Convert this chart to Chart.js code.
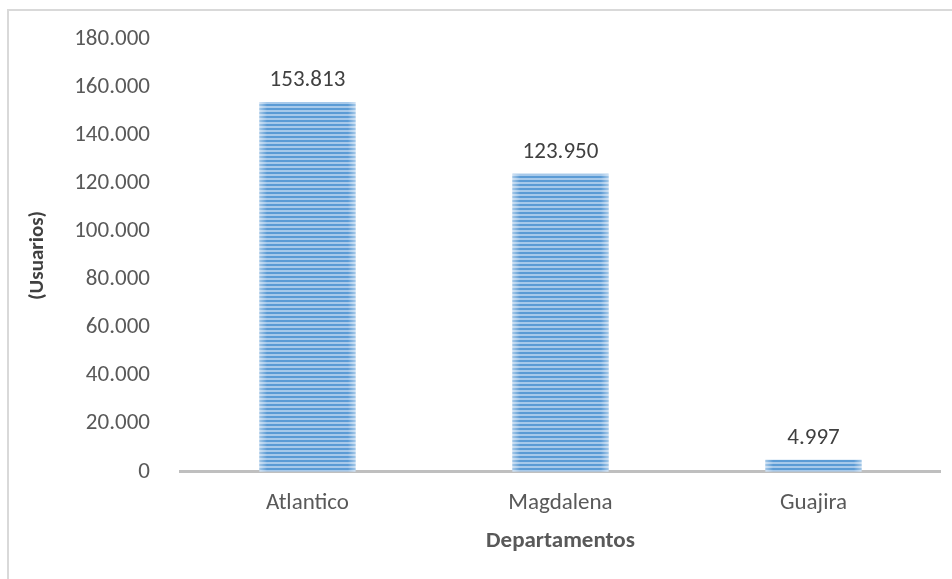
<!DOCTYPE html>
<html>
<head>
<meta charset="utf-8">
<script src="https://cdn.jsdelivr.net/npm/chart.js@4.4.0/dist/chart.umd.min.js"></script>
<style>
  html, body { margin: 0; padding: 0; background: #fff; }
  body { width: 952px; height: 579px; overflow: hidden; position: relative; }
  .frame { position: absolute; left: 7px; top: 9px; width: 1000px; height: 1000px; border-left: 2px solid #d9d9d9; border-top: 2px solid #d9d9d9; }
  #wrap { position: absolute; left: 0; top: 0; width: 952px; height: 579px; }
</style>
</head>
<body>
<div class="frame"></div>
<div id="wrap"><canvas id="usuarios"></canvas></div>
<script>
// Usuarios por departamento
const departamentos = ['Atlantico', 'Magdalena', 'Guajira']
const usuarios = [153813, 123950, 4997]
const yMax = 180000
const yStep = 20000

const fontFamily = "Carlito, Calibri, Lato, 'Open Sans', sans-serif"

// miles con punto: 153813 -> 153.813
function miles (v) {
  return String(Math.round(v)).replace(/\B(?=(\d{3})+(?!\d))/g, '.')
}

// relleno rayado horizontal de las barras
function rayas () {
  const c = document.createElement('canvas')
  c.width = 4
  c.height = 4
  const g = c.getContext('2d')
  g.fillStyle = '#5b9bd5'
  g.fillRect(0, 0, 4, 2)
  g.fillStyle = '#a7c9ea'
  g.fillRect(0, 2, 4, 2)
  return g.createPattern(c, 'repeat')
}

// bordes claros en cada barra y valor encima
const barExtras = {
  id: 'barExtras',
  afterDatasetsDraw (chart) {
    const ctx = chart.ctx
    const meta = chart.getDatasetMeta(0)
    meta.data.forEach((bar, i) => {
      const half = bar.width / 2
      const left = bar.x - half
      const right = bar.x + half
      const h = bar.base - bar.y
      const grad = ctx.createLinearGradient(left, 0, right, 0)
      grad.addColorStop(0, 'rgba(255,255,255,0.45)')
      grad.addColorStop(0.08, 'rgba(255,255,255,0)')
      grad.addColorStop(0.92, 'rgba(255,255,255,0)')
      grad.addColorStop(1, 'rgba(255,255,255,0.45)')
      ctx.save()
      ctx.fillStyle = grad
      ctx.fillRect(left, bar.y, bar.width, h)
      ctx.fillStyle = '#404040'
      ctx.font = '23px ' + fontFamily
      ctx.textAlign = 'center'
      ctx.textBaseline = 'bottom'
      ctx.fillText(miles(usuarios[i]), bar.x, bar.y - 10)
      ctx.restore()
    })
  }
}

const ctx = document.getElementById('usuarios').getContext('2d')
new Chart(ctx, {
  type: 'bar',
  data: {
    labels: departamentos,
    datasets: [{
      label: 'Usuarios',
      data: usuarios,
      backgroundColor: rayas(),
      borderWidth: 0,
      barPercentage: 0.38,
      categoryPercentage: 1
    }]
  },
  options: {
    responsive: true,
    maintainAspectRatio: false,
    animation: false,
    layout: { padding: { top: 39, right: 12, bottom: 24, left: 25 } },
    plugins: {
      legend: { display: false },
      tooltip: { enabled: false }
    },
    scales: {
      x: {
        grid: { display: false },
        border: { color: '#bfbfbf', width: 3 },
        ticks: { color: '#595959', font: { family: fontFamily, size: 23 }, padding: 10 },
        title: {
          display: true,
          text: 'Departamentos',
          color: '#595959',
          font: { family: fontFamily, size: 23, weight: 'bold' },
          padding: { top: 0, bottom: 0 }
        }
      },
      y: {
        min: 0,
        max: yMax,
        grid: { display: false },
        border: { display: false },
        ticks: {
          stepSize: yStep,
          color: '#595959',
          font: { family: fontFamily, size: 23 },
          padding: 23,
          callback: v => miles(v)
        },
        title: {
          display: true,
          text: '(Usuarios)',
          color: '#404040',
          font: { family: fontFamily, size: 21, weight: 'bold' },
          padding: { top: 0, bottom: 1 }
        }
      }
    }
  },
  plugins: [barExtras]
})
</script>
</body>
</html>
